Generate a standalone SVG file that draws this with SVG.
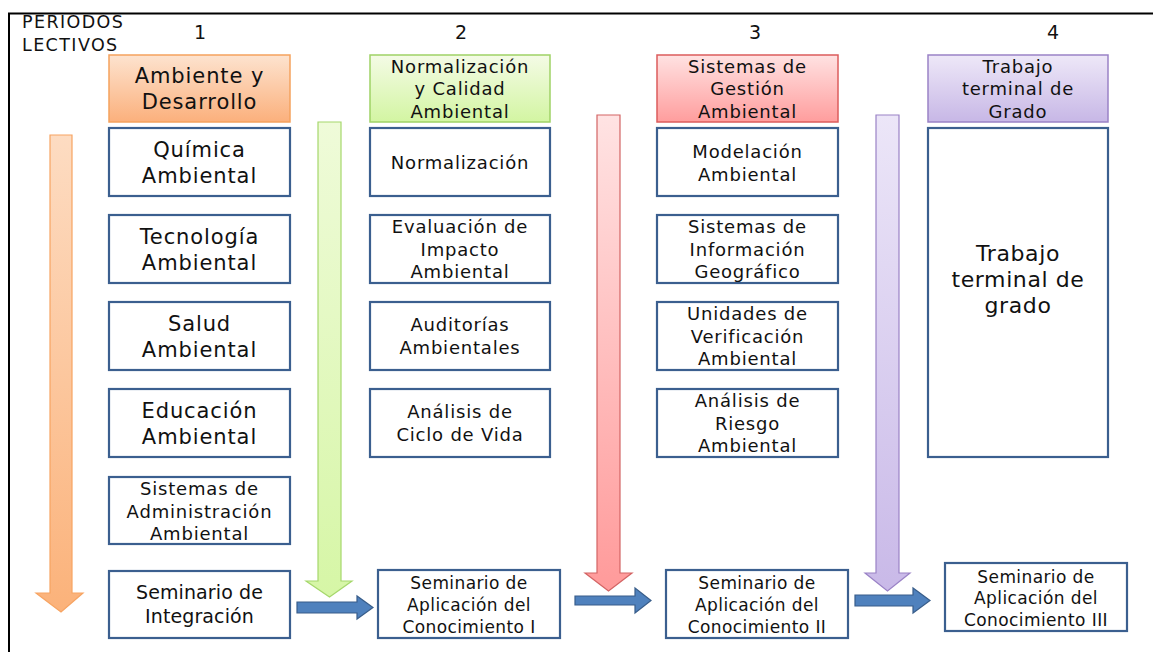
<svg xmlns="http://www.w3.org/2000/svg" width="1153" height="652" viewBox="0 0 1153 652">
<defs>
<linearGradient id="gO" x1="0" y1="0" x2="0" y2="1"><stop offset="0" stop-color="#fde3cf"/><stop offset="1" stop-color="#fbb07c"/></linearGradient>
<linearGradient id="gG" x1="0" y1="0" x2="0" y2="1"><stop offset="0" stop-color="#f4fbe6"/><stop offset="1" stop-color="#d3f5a2"/></linearGradient>
<linearGradient id="gR" x1="0" y1="0" x2="0" y2="1"><stop offset="0" stop-color="#ffe2e2"/><stop offset="1" stop-color="#ff9d9d"/></linearGradient>
<linearGradient id="gP" x1="0" y1="0" x2="0" y2="1"><stop offset="0" stop-color="#eee8f8"/><stop offset="1" stop-color="#c7b7e6"/></linearGradient>
<linearGradient id="aO" x1="0" y1="0" x2="0" y2="1"><stop offset="0" stop-color="#fddcc2"/><stop offset="1" stop-color="#fbb27a"/></linearGradient>
<linearGradient id="aG" x1="0" y1="0" x2="0" y2="1"><stop offset="0" stop-color="#effbd9"/><stop offset="1" stop-color="#d6f6a6"/></linearGradient>
<linearGradient id="aR" x1="0" y1="0" x2="0" y2="1"><stop offset="0" stop-color="#ffe3e3"/><stop offset="1" stop-color="#ff9a9a"/></linearGradient>
<linearGradient id="aP" x1="0" y1="0" x2="0" y2="1"><stop offset="0" stop-color="#ece6f8"/><stop offset="1" stop-color="#c9b9e8"/></linearGradient>
</defs>
<style>
text{font-family:"DejaVu Sans","Liberation Sans",sans-serif;fill:#111;text-anchor:middle}
.lbl{text-anchor:start;font-size:17.5px;letter-spacing:1.4px}
.num{font-size:19px}
.c1{font-size:21px;letter-spacing:0.9px}
.t{font-size:18px;letter-spacing:0.8px}
.s{font-size:17px;letter-spacing:0.4px}
.big{font-size:22px;letter-spacing:0.6px}
.si{font-size:19px;letter-spacing:0.1px}
.box{fill:#fff;stroke:#3b5f8f;stroke-width:2.2}
.hO{fill:url(#gO);stroke:#f5a25e;stroke-width:1.5}
.hG{fill:url(#gG);stroke:#9fd266;stroke-width:1.5}
.hR{fill:url(#gR);stroke:#dc5c5c;stroke-width:1.5}
.hP{fill:url(#gP);stroke:#9a82c6;stroke-width:1.5}
.blue{fill:#4f81bd;stroke:#385d8a;stroke-width:1.2}
</style>
<rect width="1153" height="652" fill="#fff"/>
<path d="M9,652 V13.5 H1153" fill="none" stroke="#000" stroke-width="2"/>
<text class="lbl" x="22" y="28">PERIODOS</text>
<text class="lbl" x="22" y="51">LECTIVOS</text>
<text class="num" x="200" y="39">1</text>
<text class="num" x="461" y="39">2</text>
<text class="num" x="755" y="39">3</text>
<text class="num" x="1053" y="39">4</text>

<g id="connectors">
<path d="M50,135 H72 V593 H83 L61,612 L36,593 H50 Z" fill="url(#aO)" stroke="#f7a462" stroke-width="1.2"/>
<path d="M318,122 H341 V581 H352 L329.5,597 L306,581 H318 Z" fill="url(#aG)" stroke="#a6d86c" stroke-width="1.2"/>
<path d="M597,115 H620 V573 H632 L608.5,591 L585,573 H597 Z" fill="url(#aR)" stroke="#d36464" stroke-width="1.2"/>
<path d="M876,115 H899 V573 H910 L887.5,591 L865,573 H876 Z" fill="url(#aP)" stroke="#9a82c6" stroke-width="1.2"/>
<path class="blue" d="M297,602 H357 V596 L373,607.5 L357,619 V613 H297 Z"/>
<path class="blue" d="M575,596 H635 V588 L651,600.5 L635,613 V605 H575 Z"/>
<path class="blue" d="M855,595 H913 V588 L930,600.5 L913,613 V606 H855 Z"/>
</g>

<g id="h1"><rect class="hO" x="109" y="55" width="181" height="67"/><text class="c1" x="199.5" y="83">Ambiente y</text><text class="c1" x="199.5" y="109">Desarrollo</text></g>
<g id="h2"><rect class="hG" x="370" y="55" width="180" height="67"/><text class="t" x="460" y="73">Normalización</text><text class="t" x="460" y="95">y Calidad</text><text class="t" x="460" y="118">Ambiental</text></g>
<g id="h3"><rect class="hR" x="657" y="55" width="181" height="67"/><text class="t" x="747.5" y="73">Sistemas de</text><text class="t" x="747.5" y="95">Gestión</text><text class="t" x="747.5" y="118">Ambiental</text></g>
<g id="h4"><rect class="hP" x="928" y="55" width="180" height="67"/><text class="t" x="1018" y="73">Trabajo</text><text class="t" x="1018" y="95">terminal de</text><text class="t" x="1018" y="118">Grado</text></g>

<g id="quimica"><rect class="box" x="109" y="128" width="181" height="68"/><text class="c1" x="199.5" y="157">Química</text><text class="c1" x="199.5" y="183">Ambiental</text></g>
<g id="tecnologia"><rect class="box" x="109" y="215" width="181" height="68"/><text class="c1" x="199.5" y="244">Tecnología</text><text class="c1" x="199.5" y="270">Ambiental</text></g>
<g id="salud"><rect class="box" x="109" y="302" width="181" height="68"/><text class="c1" x="199.5" y="331">Salud</text><text class="c1" x="199.5" y="357">Ambiental</text></g>
<g id="educacion"><rect class="box" x="109" y="389" width="181" height="68"/><text class="c1" x="199.5" y="418">Educación</text><text class="c1" x="199.5" y="444">Ambiental</text></g>
<g id="sistadm"><rect class="box" x="109" y="477" width="181" height="67"/><text class="t" x="199.5" y="495">Sistemas de</text><text class="t" x="199.5" y="518">Administración</text><text class="t" x="199.5" y="540">Ambiental</text></g>
<g id="semint"><rect class="box" x="109" y="571" width="181" height="67"/><text class="si" x="199.5" y="599">Seminario de</text><text class="si" x="199.5" y="623">Integración</text></g>

<g id="normalizacion"><rect class="box" x="370" y="128" width="180" height="68"/><text class="t" x="460" y="169">Normalización</text></g>
<g id="evaluacion"><rect class="box" x="370" y="215" width="180" height="68"/><text class="t" x="460" y="233">Evaluación de</text><text class="t" x="460" y="256">Impacto</text><text class="t" x="460" y="278">Ambiental</text></g>
<g id="auditorias"><rect class="box" x="370" y="302" width="180" height="68"/><text class="t" x="460" y="331">Auditorías</text><text class="t" x="460" y="354">Ambientales</text></g>
<g id="analisiscv"><rect class="box" x="370" y="389" width="180" height="68"/><text class="t" x="460" y="418">Análisis de</text><text class="t" x="460" y="441">Ciclo de Vida</text></g>
<g id="sem1"><rect class="box" x="378" y="570" width="182" height="68"/><text class="s" x="469" y="589">Seminario de</text><text class="s" x="469" y="611">Aplicación del</text><text class="s" x="469" y="633">Conocimiento I</text></g>

<g id="modelacion"><rect class="box" x="657" y="128" width="181" height="68"/><text class="t" x="747.5" y="158">Modelación</text><text class="t" x="747.5" y="181">Ambiental</text></g>
<g id="sig"><rect class="box" x="657" y="215" width="181" height="68"/><text class="t" x="747.5" y="233">Sistemas de</text><text class="t" x="747.5" y="256">Información</text><text class="t" x="747.5" y="278">Geográfico</text></g>
<g id="unidades"><rect class="box" x="657" y="302" width="181" height="68"/><text class="t" x="747.5" y="320">Unidades de</text><text class="t" x="747.5" y="343">Verificación</text><text class="t" x="747.5" y="365">Ambiental</text></g>
<g id="riesgo"><rect class="box" x="657" y="389" width="181" height="68"/><text class="t" x="747.5" y="407">Análisis de</text><text class="t" x="747.5" y="430">Riesgo</text><text class="t" x="747.5" y="452">Ambiental</text></g>
<g id="sem2"><rect class="box" x="666" y="570" width="182" height="68"/><text class="s" x="757" y="589">Seminario de</text><text class="s" x="757" y="611">Aplicación del</text><text class="s" x="757" y="633">Conocimiento II</text></g>

<g id="trabajo"><rect class="box" x="928" y="128" width="180" height="329"/><text class="big" x="1018" y="261">Trabajo</text><text class="big" x="1018" y="287">terminal de</text><text class="big" x="1018" y="313">grado</text></g>
<g id="sem3"><rect class="box" x="945" y="563" width="182" height="68"/><text class="s" x="1036" y="583">Seminario de</text><text class="s" x="1036" y="604">Aplicación del</text><text class="s" x="1036" y="626">Conocimiento III</text></g>
</svg>
